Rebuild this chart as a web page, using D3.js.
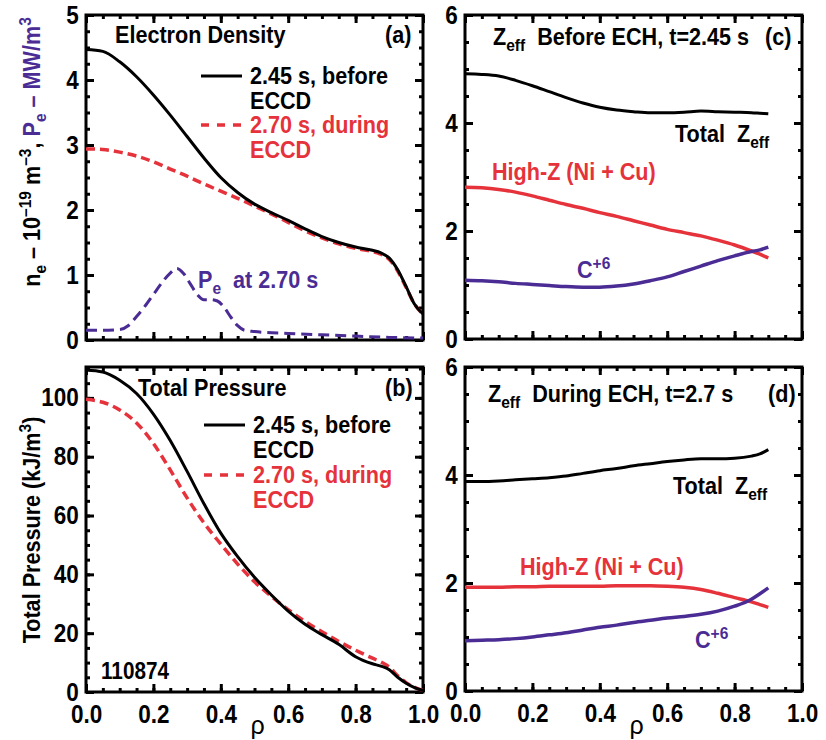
<!DOCTYPE html>
<html>
<head>
<meta charset="utf-8">
<title></title>
<script src="https://cdnjs.cloudflare.com/ajax/libs/d3/7.8.5/d3.min.js"></script>
<style>
body { margin: 0; background: #fff; }
text { font-family: 'Liberation Sans', Arial, sans-serif; font-weight: bold; white-space: pre; }
</style>
</head>
<body>
<div id="chart"></div>
<script>
    // ---- data ----
    var red = '#e5323b';
    var purple = '#4a2c94';

    // (a) electron density, 10^19 m^-3
    var rhoA = [0, 0.05, 0.10, 0.15, 0.20, 0.25, 0.30, 0.35, 0.40, 0.45, 0.50, 0.55, 0.60, 0.65, 0.70, 0.75, 0.80, 0.85, 0.875, 0.90, 0.925, 0.95, 0.975, 1.0];
    var neBefore = [4.47, 4.44, 4.28, 4.05, 3.77, 3.46, 3.13, 2.80, 2.50, 2.27, 2.09, 1.96, 1.84, 1.71, 1.59, 1.50, 1.43, 1.38, 1.34, 1.26, 1.08, 0.82, 0.55, 0.40];
    var neDuring = [2.94, 2.93, 2.89, 2.83, 2.74, 2.63, 2.52, 2.40, 2.29, 2.18, 2.06, 1.94, 1.81, 1.68, 1.57, 1.48, 1.41, 1.36, 1.32, 1.24, 1.06, 0.81, 0.55, 0.40];
    // Pe at 2.70 s, MW/m^3
    var rhoPe = [0, 0.05, 0.10, 0.125, 0.15, 0.175, 0.20, 0.225, 0.25, 0.27, 0.29, 0.31, 0.33, 0.35, 0.37, 0.39, 0.41, 0.43, 0.45, 0.47, 0.50, 0.60, 0.70, 0.80, 0.90, 1.0];
    var pe = [0.15, 0.15, 0.16, 0.22, 0.36, 0.52, 0.70, 0.88, 1.03, 1.10, 1.02, 0.86, 0.70, 0.62, 0.62, 0.60, 0.50, 0.35, 0.22, 0.15, 0.13, 0.10, 0.08, 0.06, 0.04, 0.03];

    // (b) total pressure, kJ/m^3
    var pBefore = [109.5, 108.8, 106, 101.5, 94.5, 85.5, 75, 64, 54, 46, 39, 33, 27.5, 23, 19.5, 16.2, 12.0, 9.6, 8.8, 7.6, 5.0, 3.0, 1.5, 0.5];
    var pDuring = [99.5, 98.5, 95.9, 91.5, 84.5, 75.5, 66, 57.5, 50.3, 43.5, 37.5, 32.5, 28, 24, 20.5, 17.2, 14.2, 11.5, 10.2, 8.5, 5.5, 3.2, 1.6, 0.5];

    // (c), (d) Zeff profiles
    var rhoZ = [0, 0.05, 0.10, 0.15, 0.20, 0.25, 0.30, 0.35, 0.40, 0.45, 0.50, 0.55, 0.60, 0.65, 0.70, 0.75, 0.80, 0.85, 0.875, 0.90];
    var zTotBefore = [4.91, 4.90, 4.87, 4.79, 4.69, 4.58, 4.47, 4.37, 4.29, 4.24, 4.21, 4.19, 4.19, 4.20, 4.22, 4.21, 4.20, 4.19, 4.18, 4.17];
    var zHighBefore = [2.81, 2.80, 2.77, 2.72, 2.65, 2.57, 2.49, 2.42, 2.34, 2.27, 2.19, 2.11, 2.03, 1.97, 1.91, 1.83, 1.74, 1.63, 1.57, 1.50];
    var zCBefore = [1.09, 1.08, 1.06, 1.03, 1.01, 0.99, 0.97, 0.96, 0.96, 0.98, 1.02, 1.08, 1.15, 1.25, 1.35, 1.45, 1.54, 1.62, 1.65, 1.70];
    var zTotDuring = [3.88, 3.88, 3.89, 3.91, 3.93, 3.95, 3.98, 4.03, 4.08, 4.12, 4.17, 4.21, 4.25, 4.28, 4.30, 4.30, 4.31, 4.35, 4.39, 4.47];
    var zHighDuring = [1.92, 1.92, 1.92, 1.93, 1.93, 1.94, 1.94, 1.94, 1.94, 1.95, 1.95, 1.95, 1.94, 1.92, 1.88, 1.81, 1.73, 1.65, 1.60, 1.55];
    var zCDuring = [0.93, 0.94, 0.95, 0.97, 1.00, 1.04, 1.08, 1.13, 1.18, 1.22, 1.27, 1.31, 1.35, 1.38, 1.42, 1.48, 1.57, 1.70, 1.80, 1.91];

    var xTicks = [0, 0.2, 0.4, 0.6, 0.8, 1.0];

    // condensed look of the original lettering
    var squeeze = 'scale(0.9,1)';

    var svg = d3.select('#chart').append('svg')
        .attr('width', 826)
        .attr('height', 740);

    // draw one framed panel and return its scales
    function panel(box, yMax, yMajor, yMinor, showX) {
        var g = svg.append('g');
        var x = d3.scaleLinear().domain([0, 1]).range([box.x0, box.x1]);
        var y = d3.scaleLinear().domain([0, yMax]).range([box.y1, box.y0]);

        var xMinor = d3.range(0, 1.0001, 0.05);
        var yMin = d3.range(0, yMax + 1e-6, yMinor);
        var yMaj = d3.range(0, yMax + 1e-6, yMajor);

        // ticks on all four sides, pointing in
        function ticks(scale, vals, orient, len, pos) {
            var ax = orient(scale).tickValues(vals).tickSizeInner(-len).tickSizeOuter(0).tickFormat('');
            var a = g.append('g').attr('transform', pos).call(ax);
            a.select('.domain').remove();
            a.selectAll('line').attr('stroke', '#000').attr('stroke-width', 3);
            return a;
        }
        ticks(x, xMinor, d3.axisBottom, 4, 'translate(0,' + box.y1 + ')');
        ticks(x, xMinor, d3.axisTop, 4, 'translate(0,' + box.y0 + ')');
        ticks(y, yMin, d3.axisLeft, 4, 'translate(' + box.x0 + ',0)');
        ticks(y, yMin, d3.axisRight, 4, 'translate(' + box.x1 + ',0)');
        ticks(x, xTicks, d3.axisBottom, 8, 'translate(0,' + box.y1 + ')');
        ticks(x, xTicks, d3.axisTop, 8, 'translate(0,' + box.y0 + ')');
        ticks(y, yMaj, d3.axisRight, 8, 'translate(' + box.x1 + ',0)');

        // labelled left axis
        var la = g.append('g')
            .attr('transform', 'translate(' + box.x0 + ',0)')
            .call(d3.axisLeft(y).tickValues(yMaj).tickSizeInner(-8).tickSizeOuter(0).tickPadding(8).tickFormat(d3.format('d')));
        la.select('.domain').remove();
        la.selectAll('line').attr('stroke', '#000').attr('stroke-width', 3);
        la.selectAll('text').attr('font-size', 25).attr('fill', '#000').attr('transform', squeeze);

        if (showX) {
            var ba = g.append('g')
                .attr('transform', 'translate(0,' + box.y1 + ')')
                .call(d3.axisBottom(x).tickValues(xTicks).tickSize(0).tickPadding(13).tickFormat(d3.format('.1f')));
            ba.select('.domain').remove();
            ba.selectAll('text').attr('font-size', 25).attr('fill', '#000').attr('transform', squeeze);
            svg.append('text')
                .attr('x', (box.x0 + box.x1) / 2 + 3)
                .attr('y', 734)
                .attr('text-anchor', 'middle')
                .attr('font-size', 25)
                .style('font-weight', 'normal')
                .text('ρ');
        }

        g.append('rect')
            .attr('x', box.x0).attr('y', box.y0)
            .attr('width', box.x1 - box.x0).attr('height', box.y1 - box.y0)
            .attr('fill', 'none').attr('stroke', '#000').attr('stroke-width', 3);
        return {x: x, y: y};
    }

    function curve(sc, xs, ys, color, width, dash) {
        var line = d3.line()
            .x((d, i) => sc.x(xs[i]))
            .y((d) => sc.y(d))
            .curve(d3.curveMonotoneX);
        svg.append('path')
            .attr('d', line(ys))
            .attr('fill', 'none')
            .attr('stroke', color)
            .attr('stroke-width', width)
            .attr('stroke-dasharray', dash || null);
    }

    function label(x, y, parts, size, color, anchor, rot) {
        var t = svg.append('text')
            .attr('transform', 'translate(' + x + ',' + y + ')' + (rot ? ' rotate(-90)' : '') + ' ' + squeeze)
            .attr('font-size', size)
            .attr('fill', color)
            .attr('text-anchor', anchor || 'start');
        parts.forEach(function (p) {
            var s = t.append('tspan').text(p.t);
            if (p.sub) s.attr('font-size', size * 0.72).attr('dy', 6);
            if (p.sup) s.attr('font-size', size * 0.72).attr('dy', -9);
            if (p.back) s.attr('dy', p.back);
            if (p.fill) s.attr('fill', p.fill);
        });
        return t;
    }

    function key(x1, y, color, width, dash) {
        svg.append('line')
            .attr('x1', x1).attr('x2', x1 + 41).attr('y1', y).attr('y2', y)
            .attr('stroke', color).attr('stroke-width', width)
            .attr('stroke-dasharray', dash || null);
    }

    var boxA = {x0: 86, x1: 423, y0: 15, y1: 340};
    var boxB = {x0: 86, x1: 423, y0: 367, y1: 692};
    var boxC = {x0: 465, x1: 802, y0: 15, y1: 339};
    var boxD = {x0: 465, x1: 802, y0: 367, y1: 691};

    // ---- (a) ----
    var sa = panel(boxA, 5, 1, 0.25, false);
    curve(sa, rhoPe, pe, purple, 3, '11,6');
    curve(sa, rhoA, neDuring, red, 3.5, '9,5');
    curve(sa, rhoA, neBefore, '#000', 3);
    label(115, 43, [{t: 'Electron Density'}], 24, '#000');
    label(385, 43, [{t: '(a)'}], 24, '#000');
    key(201, 76, '#000', 3);
    label(250, 84, [{t: '2.45 s, before'}], 24, '#000');
    label(250, 109, [{t: 'ECCD'}], 24, '#000');
    key(201, 125, red, 3.5, '8,8');
    label(250, 133, [{t: '2.70 s, during'}], 24, red);
    label(250, 158, [{t: 'ECCD'}], 24, red);
    label(198, 288, [{t: 'P'}, {t: 'e', sub: true}, {t: '  at 2.70 s', back: -6}], 24, purple);
    label(40, 152, [{t: 'n'}, {t: 'e', sub: true}, {t: ' – 10', back: -6}, {t: '–19', sup: true}, {t: ' m', back: 9},
        {t: '–3', sup: true}, {t: ', ', back: 9}, {t: 'P', fill: purple}, {t: 'e', sub: true, fill: purple},
        {t: ' – MW/m', back: -6, fill: purple}, {t: '3', sup: true, fill: purple}], 24, '#000', 'middle', true);

    // ---- (b) ----
    var sb = panel(boxB, 110.5, 20, 5, true);
    curve(sb, rhoA, pDuring, red, 3.5, '9,5');
    curve(sb, rhoA, pBefore, '#000', 3);
    label(138, 396, [{t: 'Total Pressure'}], 24, '#000');
    label(385, 396, [{t: '(b)'}], 24, '#000');
    key(204, 425, '#000', 3);
    label(253, 433, [{t: '2.45 s, before'}], 24, '#000');
    label(253, 458, [{t: 'ECCD'}], 24, '#000');
    key(204, 475, red, 3.5, '8,8');
    label(253, 483, [{t: '2.70 s, during'}], 24, red);
    label(253, 508, [{t: 'ECCD'}], 24, red);
    label(101, 679, [{t: '110874'}], 23, '#000');
    label(40, 530, [{t: 'Total Pressure (kJ/m'}, {t: '3', sup: true}, {t: ')', back: 9}], 24, '#000', 'middle', true);

    // ---- (c) ----
    var sc = panel(boxC, 6, 2, 0.5, false);
    curve(sc, rhoZ, zTotBefore, '#000', 3);
    curve(sc, rhoZ, zHighBefore, red, 3.5);
    curve(sc, rhoZ, zCBefore, purple, 3.5);
    label(493, 45, [{t: 'Z'}, {t: 'eff', sub: true}, {t: '  Before ECH, t=2.45 s', back: -6}], 24, '#000');
    label(765, 45, [{t: '(c)'}], 24, '#000');
    label(675, 142, [{t: 'Total  Z'}, {t: 'eff', sub: true}], 24, '#000');
    label(492, 180, [{t: 'High-Z (Ni + Cu)'}], 24, red);
    label(577, 278, [{t: 'C'}, {t: '+6', sup: true}], 24, purple);

    // ---- (d) ----
    var sd = panel(boxD, 6, 2, 0.5, true);
    curve(sd, rhoZ, zTotDuring, '#000', 3);
    curve(sd, rhoZ, zHighDuring, red, 3.5);
    curve(sd, rhoZ, zCDuring, purple, 3.5);
    label(488, 402, [{t: 'Z'}, {t: 'eff', sub: true}, {t: '  During ECH, t=2.7 s', back: -6}], 24, '#000');
    label(768, 402, [{t: '(d)'}], 24, '#000');
    label(673, 494, [{t: 'Total  Z'}, {t: 'eff', sub: true}], 24, '#000');
    label(520, 575, [{t: 'High-Z (Ni + Cu)'}], 24, red);
    label(695, 648, [{t: 'C'}, {t: '+6', sup: true}], 24, purple);
</script>
</body>
</html>
